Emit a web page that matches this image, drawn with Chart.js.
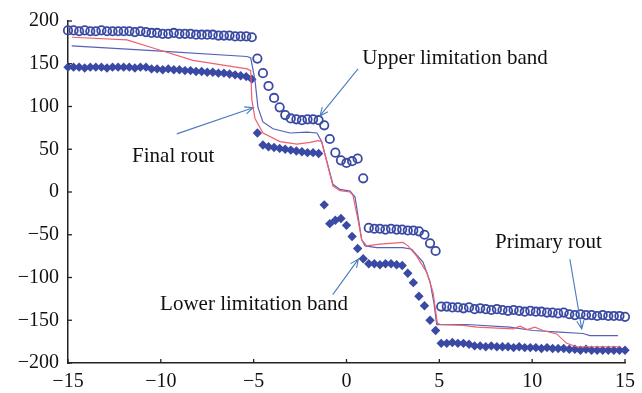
<!DOCTYPE html>
<html>
<head>
<meta charset="utf-8">
<script src="https://cdn.jsdelivr.net/npm/chart.js@4.4.0/dist/chart.umd.min.js"></script>
<style>
  html, body { margin: 0; padding: 0; background: #fff; }
  #wrap { width: 642px; height: 393px; }
</style>
</head>
<body>
<div id="wrap"><canvas id="routChart"></canvas></div>
<script>
// sample positions shared by the two limitation bands
const gridX = [
  -15, -14.7, -14.4, -14.1, -13.8, -13.5, -13.2, -12.9, -12.6, -12.3,
  -12, -11.7, -11.4, -11.1, -10.8, -10.5, -10.2, -9.9, -9.6, -9.3,
  -9, -8.7, -8.4, -8.1, -7.8, -7.5, -7.2, -6.9, -6.6, -6.3,
  -6, -5.7, -5.4, -5.1, -4.8, -4.5, -4.2, -3.9, -3.6, -3.3,
  -3, -2.7, -2.4, -2.1, -1.8, -1.5, -1.2, -0.9, -0.6, -0.3,
  0, 0.3, 0.6, 0.9, 1.2, 1.5, 1.8, 2.1, 2.4, 2.7,
  3, 3.3, 3.6, 3.9, 4.2, 4.5, 4.8, 5.1, 5.4, 5.7,
  6, 6.3, 6.6, 6.9, 7.2, 7.5, 7.8, 8.1, 8.4, 8.7,
  9, 9.3, 9.6, 9.9, 10.2, 10.5, 10.8, 11.1, 11.4, 11.7,
  12, 12.3, 12.6, 12.9, 13.2, 13.5, 13.8, 14.1, 14.4, 14.7,
  15
];

// open circles
const upperBand = [
  189, 189, 188, 189, 188, 188, 189, 188, 188, 188,
  188, 188, 187, 188, 187, 186, 186, 185, 185, 186,
  185, 185, 185, 184, 184, 184, 184, 183, 183, 183,
  182, 182, 182, 181, 156, 139, 124, 110, 99, 90,
  86, 85, 84, 85, 85, 84, 78, 62, 46, 37,
  34, 36, 39, 16, -42, -43, -43, -44, -43, -44,
  -44, -45, -45, -46, -50, -60, -69, -134, -134, -135,
  -135, -136, -135, -137, -136, -137, -138, -137, -138, -139,
  -138, -139, -140, -139, -140, -140, -141, -141, -142, -141,
  -143, -144, -143, -144, -144, -145, -144, -145, -145, -145,
  -146
];

// filled diamonds
const lowerBand = [
  146, 146, 146, 145, 146, 146, 146, 145, 146, 146,
  146, 146, 145, 146, 146, 144, 144, 143, 144, 143,
  143, 142, 142, 141, 141, 140, 140, 139, 139, 138,
  137, 136, 135, 132, 69, 55, 53, 52, 51, 50,
  49, 48, 47, 46, 46, 45, -15, -37, -33, -31,
  -39, -52, -66, -78, -84, -84, -85, -84, -84, -85,
  -86, -95, -106, -122, -133, -150, -162, -177, -177, -176,
  -177, -177, -178, -180, -180, -181, -180, -181, -181, -181,
  -182, -181, -182, -182, -182, -183, -182, -183, -183, -183,
  -184, -184, -185, -184, -185, -185, -185, -185, -185, -185,
  -185
];

// red line
const finalRoutX = [-14.78, -11.82, -10.2, -8.27, -5.36, -5.16, -5.1, -4.93, -4.5, -3.58,
  -2.67, -1.97, -1.53, -1.34, -0.73, -0.35, 0.19, 0.35, 0.62, 0.82,
  1.09, 1.8, 3.04, 3.31, 3.78, 4.32, 4.66, 4.8, 4.89, 5.03,
  6.27, 7.01, 8.97, 9.35, 9.72, 10.15, 10.58, 11.32, 11.86, 12.4, 14.73];
const finalRoutY = [181, 178, 167, 154, 144, 142, 108, 86, 69, 59,
  56, 58, 60, 59, 7, 1.5, 0, -4, -33, -56,
  -63, -61, -59, -63, -75, -94, -117, -139, -153, -155,
  -156, -158, -160, -157, -161, -158, -162, -166, -177, -181, -181];

// blue line
const primaryRoutX = [-14.8, -10.22, -5.37, -5.16, -4.93, -4.77, -4.5, -3.96, -3.04, -2.14,
  -1.59, -1.34, -0.73, -0.35, 0.19, 0.46, 0.82, 1.0, 1.63, 3.04,
  3.51, 4.12, 4.5, 4.71, 4.86, 6.47, 8.8, 10.04, 11.49, 12.74, 13.11, 14.62];
const primaryRoutY = [171, 165, 158.5, 157, 131, 99, 82, 74, 69, 70,
  69, 59, 9, 3, 1, -6, -56, -63, -65, -65,
  -67, -82, -105, -130, -155, -155, -158, -162, -164, -165.5, -168, -168];

const xTicks = [-15, -10, -5, 0, 5, 10, 15];
const yTicks = [-200, -150, -100, -50, 0, 50, 100, 150, 200];

// annotation texts, anchored at their left edge (data units)
const noteTexts = ["Upper limitation band", "Final rout", "Lower limitation band", "Primary rout"];
const noteX = [0.85, -11.55, -10.04, 8.0];
const noteY = [156, 41, -132, -59];

// arrows: tail -> head (data units)
const arrowFromX = [0.62, -9.14, -0.74, 12.03];
const arrowFromY = [144, 68, -120, -78.5];
const arrowToX = [-1.43, -5.03, 0.64, 12.67];
const arrowToY = [89, 98.6, -78.5, -160];

const markColor = "#3a49a3";
const serif = "'Liberation Serif', 'DejaVu Serif', serif";

function toPoints(xs, ys) {
  return xs.map((x, i) => ({ x: x, y: ys[i] }));
}

function minusSign(v) {
  return v < 0 ? "\u2212" + Math.abs(v) : String(v);
}

// inward tick marks, arrows and labels
const notesPlugin = {
  id: "notes",
  afterDraw(chart) {
    const ctx = chart.ctx;
    const xs = chart.scales.x;
    const ys = chart.scales.y;
    const area = chart.chartArea;
    ctx.save();

    ctx.strokeStyle = "#222";
    ctx.lineWidth = 1.3;
    xTicks.forEach(v => {
      const px = xs.getPixelForValue(v);
      ctx.beginPath();
      ctx.moveTo(px, area.bottom);
      ctx.lineTo(px, area.bottom - 4);
      ctx.stroke();
    });
    yTicks.forEach(v => {
      const py = ys.getPixelForValue(v);
      ctx.beginPath();
      ctx.moveTo(area.left, py);
      ctx.lineTo(area.left + 4, py);
      ctx.stroke();
    });

    ctx.strokeStyle = "#4a7cc0";
    ctx.lineWidth = 1.1;
    arrowFromX.forEach((fx, i) => {
      const x1 = xs.getPixelForValue(fx), y1 = ys.getPixelForValue(arrowFromY[i]);
      const x2 = xs.getPixelForValue(arrowToX[i]), y2 = ys.getPixelForValue(arrowToY[i]);
      const ang = Math.atan2(y2 - y1, x2 - x1);
      const head = 9, spread = 0.42;
      ctx.beginPath();
      ctx.moveTo(x1, y1);
      ctx.lineTo(x2, y2);
      ctx.moveTo(x2 - head * Math.cos(ang - spread), y2 - head * Math.sin(ang - spread));
      ctx.lineTo(x2, y2);
      ctx.lineTo(x2 - head * Math.cos(ang + spread), y2 - head * Math.sin(ang + spread));
      ctx.stroke();
    });

    ctx.fillStyle = "#111";
    ctx.font = "21px " + serif;
    ctx.textAlign = "left";
    ctx.textBaseline = "middle";
    noteTexts.forEach((t, i) => {
      ctx.fillText(t, xs.getPixelForValue(noteX[i]), ys.getPixelForValue(noteY[i]));
    });

    ctx.restore();
  }
};

const ctx = document.getElementById("routChart").getContext("2d");

new Chart(ctx, {
  type: "scatter",
  data: {
    datasets: [
      {
        label: "Final rout",
        data: toPoints(finalRoutX, finalRoutY),
        showLine: true,
        borderColor: "#f0606e",
        borderWidth: 1.2,
        pointRadius: 0,
        tension: 0,
        clip: false
      },
      {
        label: "Primary rout",
        data: toPoints(primaryRoutX, primaryRoutY),
        showLine: true,
        borderColor: "#5860b6",
        borderWidth: 1.2,
        pointRadius: 0,
        tension: 0,
        clip: false
      },
      {
        label: "Upper limitation band",
        data: toPoints(gridX, upperBand),
        pointStyle: "circle",
        pointRadius: 4.2,
        borderWidth: 1.8,
        borderColor: markColor,
        backgroundColor: "rgba(0,0,0,0)",
        clip: false
      },
      {
        label: "Lower limitation band",
        data: toPoints(gridX, lowerBand),
        pointStyle: "rectRot",
        pointRadius: 4.7,
        borderWidth: 0,
        backgroundColor: markColor,
        clip: false
      }
    ]
  },
  options: {
    responsive: true,
    maintainAspectRatio: false,
    animation: false,
    layout: { padding: { top: 13, right: 17, left: 0, bottom: 0 } },
    plugins: {
      legend: { display: false },
      tooltip: { enabled: false }
    },
    scales: {
      x: {
        type: "linear",
        min: -15,
        max: 15,
        afterBuildTicks: scale => { scale.ticks = xTicks.map(v => ({ value: v })); },
        afterFit: scale => { scale.height = 30; },
        grid: { display: false, drawTicks: false },
        border: { display: true, color: "#222", width: 1.5 },
        ticks: {
          padding: 7,
          maxRotation: 0,
          color: "#111",
          font: { family: serif, size: 20 },
          callback: v => minusSign(v)
        }
      },
      y: {
        type: "linear",
        min: -200,
        max: 200,
        afterBuildTicks: scale => { scale.ticks = yTicks.map(v => ({ value: v })); },
        afterFit: scale => { scale.width = 68; },
        grid: { display: false, drawTicks: false },
        border: { display: true, color: "#222", width: 1.5 },
        ticks: {
          padding: 9,
          color: "#111",
          font: { family: serif, size: 20 },
          callback: v => minusSign(v)
        }
      }
    }
  },
  plugins: [notesPlugin]
});
</script>
</body>
</html>
